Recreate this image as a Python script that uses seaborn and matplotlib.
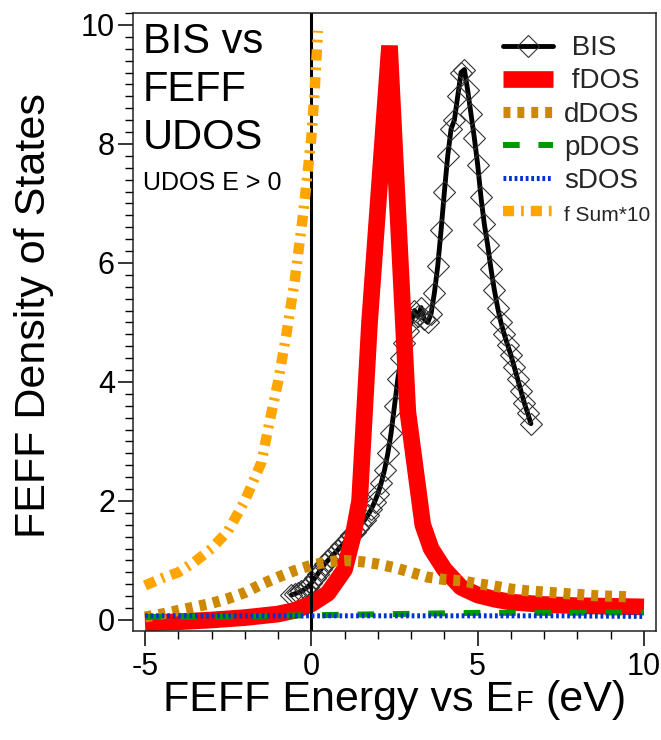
import matplotlib
matplotlib.use("Agg")
import matplotlib.pyplot as plt
from matplotlib.ticker import MultipleLocator
import numpy as np
import pandas as pd
import seaborn as sns

# ---------------- data ----------------
bis_x = [-0.6, -0.5, -0.4, -0.3, -0.2, -0.1, 0.0, 0.1, 0.2, 0.3, 0.4, 0.5, 0.6, 0.7,
         0.8, 0.9, 1.0, 1.1, 1.2, 1.3, 1.4, 1.5, 1.6, 1.7, 1.8, 1.9, 2.0, 2.1, 2.2,
         2.3, 2.4, 2.5, 2.6, 2.7, 2.8, 2.9, 3.0, 3.1, 3.2, 3.3, 3.4, 3.5, 3.6, 3.7,
         3.8, 3.9, 4.0, 4.1, 4.2, 4.3, 4.4, 4.5, 4.6, 4.7, 4.8, 4.9, 5.0, 5.1, 5.2,
         5.3, 5.4, 5.5, 5.6, 5.7, 5.8, 5.9, 6.0, 6.1, 6.2, 6.3, 6.4, 6.5, 6.6]
bis_y = [0.42, 0.44, 0.46, 0.48, 0.52, 0.56, 0.62, 0.70, 0.78, 0.86, 0.94, 1.00, 1.06, 1.12,
         1.18, 1.24, 1.30, 1.36, 1.42, 1.48, 1.55, 1.62, 1.68, 1.76, 1.86, 1.98, 2.12, 2.30, 2.52,
         2.80, 3.15, 3.60, 4.05, 4.40, 4.65, 4.85, 5.00, 5.20, 5.10, 5.25, 5.05, 5.00, 5.15, 5.50,
         5.95, 6.55, 7.20, 7.80, 8.25, 8.40, 8.80, 9.20, 9.25, 8.90, 8.50, 8.10, 7.65, 7.10, 6.65,
         6.30, 5.90, 5.55, 5.25, 5.00, 4.80, 4.62, 4.45, 4.25, 4.05, 3.85, 3.65, 3.48, 3.30]

fdos_x = [-5.0, -4.0, -3.0, -2.0, -1.0, -0.5, 0.0, 0.5, 1.0, 1.25, 1.45, 1.75, 2.35,
          2.9, 3.35, 3.6, 4.0, 4.5, 5.0, 5.5, 6.0, 7.0, 8.0, 9.0, 10.0]
fdos_y = [-0.05, -0.03, 0.0, 0.04, 0.10, 0.16, 0.27, 0.45, 0.85, 1.40, 2.00, 5.00, 9.65,
          3.50, 1.60, 1.20, 0.85, 0.55, 0.42, 0.35, 0.30, 0.26, 0.24, 0.23, 0.22]

ddos_x = [-5.0, -4.5, -4.0, -3.5, -3.0, -2.5, -2.0, -1.5, -1.0, -0.5, 0.0, 0.5, 1.0, 1.5,
          2.0, 2.5, 3.0, 3.5, 4.0, 4.5, 5.0, 5.5, 6.0, 6.5, 7.0, 7.5, 8.0, 8.5, 9.0, 9.5]
ddos_y = [0.05, 0.10, 0.16, 0.22, 0.28, 0.36, 0.46, 0.60, 0.72, 0.83, 0.92, 0.98, 1.00, 0.98,
          0.94, 0.88, 0.80, 0.72, 0.68, 0.66, 0.61, 0.57, 0.52, 0.49, 0.47, 0.45, 0.43, 0.41, 0.40, 0.39]

pdos_x = [-5.0, -2.5, 0.0, 2.5, 5.0, 7.5, 10.0]
pdos_y = [0.05, 0.06, 0.08, 0.10, 0.12, 0.12, 0.13]

sdos_x = [-5.0, -2.5, 0.0, 2.5, 5.0, 7.5, 10.0]
sdos_y = [0.07, 0.07, 0.07, 0.07, 0.07, 0.07, 0.06]

fsum_x = [-5.0, -4.5, -4.0, -3.5, -3.0, -2.5, -2.0, -1.5, -1.25, -1.0, -0.75, -0.5,
          -0.25, 0.0, 0.1, 0.2]
fsum_y = [0.58, 0.70, 0.80, 0.98, 1.20, 1.50, 2.00, 2.65, 3.35, 4.00, 4.80, 5.70,
          6.80, 8.10, 8.90, 9.90]

series_labels = [" BIS", " fDOS", "dDOS", "pDOS", "sDOS", "f Sum*10"]

# ---------------- styling ----------------
sns.set_theme(style="ticks")
plt.rcParams["font.family"] = ["Liberation Sans", "DejaVu Sans"]
plt.rcParams["lines.scale_dashes"] = False
plt.rcParams["axes.unicode_minus"] = False

fig = plt.figure(figsize=(6.61, 7.40), dpi=100)
ax = fig.add_axes([133 / 661, 1 - 631 / 740, 523 / 661, 618 / 740])

ax.axvline(0, color="black", lw=2.2, zorder=2.15)

df_bis = pd.DataFrame({"E": bis_x, "DOS": bis_y})
df_f = pd.DataFrame({"E": fdos_x, "DOS": fdos_y})
df_d = pd.DataFrame({"E": ddos_x, "DOS": ddos_y})
df_p = pd.DataFrame({"E": pdos_x, "DOS": pdos_y})
df_s = pd.DataFrame({"E": sdos_x, "DOS": sdos_y})
df_fs = pd.DataFrame({"E": fsum_x, "DOS": fsum_y})

common = dict(x="E", y="DOS", ax=ax, estimator=None, errorbar=None, sort=False)

sns.lineplot(data=df_bis, color="black", lw=3.5, marker="D", markersize=11.5,
             markerfacecolor="none", markeredgecolor="#333333", markeredgewidth=0.8,
             label=series_labels[0], zorder=2.0, **common)
sns.lineplot(data=df_f, color="#FF0000", lw=12, solid_joinstyle="bevel",
             solid_capstyle="butt", label=series_labels[1], zorder=2.1, **common)
sns.lineplot(data=df_d, color="#CC8800", lw=8, linestyle=(0, (5, 5)),
             label=series_labels[2], zorder=2.2, **common)
sns.lineplot(data=df_p, color="#009900", lw=4.3, linestyle=(0, (12, 13.5)),
             label=series_labels[3], zorder=2.3, **common)
sns.lineplot(data=df_s, color="#0033CC", lw=3.6, linestyle=(0, (2, 2)),
             label=series_labels[4], zorder=2.4, **common)
sns.lineplot(data=df_fs, color="#FFA500", lw=7.5, linestyle=(0, (8, 5, 2, 5)),
             label=series_labels[5], zorder=2.5, **common)

ax.set_xlim(-5.36, 10.36)
ax.set_ylim(-0.185, 10.2)
ax.xaxis.set_major_locator(MultipleLocator(5))
ax.xaxis.set_minor_locator(MultipleLocator(1))
ax.yaxis.set_major_locator(MultipleLocator(2))
ax.yaxis.set_minor_locator(MultipleLocator(0.2))
ax.tick_params(which="major", direction="out", length=11, width=1.1, labelsize=22,
               color="black", labelcolor="black", pad=4)
ax.tick_params(axis="y", which="major", pad=2)
ax.tick_params(which="minor", direction="out", length=5.5, width=1.0, color="black")
for sp in ax.spines.values():
    sp.set_visible(True)
    sp.set_color("#222222")
    sp.set_linewidth(1.1)

ax.set_xlabel("")
ax.set_ylabel("FEFF Density of States", fontsize=31, color="black")
ax.yaxis.set_label_coords(-0.152, 0.51)

# legend
leg = ax.legend(loc="upper left", bbox_to_anchor=(0.707, 0.964), frameon=False,
                fontsize=20, handlelength=1.8, handletextpad=0.4, labelspacing=0.26,
                borderaxespad=0, borderpad=0)
leg.get_texts()[-1].set_fontsize(15)

# annotations
ax.text(0.019, 0.985, "BIS vs\nFEFF\nUDOS", transform=ax.transAxes, fontsize=30,
        va="top", ha="left", linespacing=1.25, color="black")
ax.text(0.019, 0.745, "UDOS E > 0", transform=ax.transAxes, fontsize=18,
        va="top", ha="left", color="black")

# x label with small-cap F
fig.canvas.draw()
r = fig.canvas.get_renderer()
parts = [("FEFF Energy vs E", 31), ("F", 21), ("(eV)", 31)]
gaps = [0, 1, 12]
tmp = []
widths = []
for s, fs in parts:
    t = fig.text(0, 0, s, fontsize=fs, va="baseline", ha="left", color="black")
    widths.append(t.get_window_extent(r).width)
    tmp.append(t)
total = sum(widths) + sum(gaps)
x0 = 394.5 - total / 2
base_y = (740 - 711) / 740
for t, w, g in zip(tmp, widths, gaps):
    x0 += g
    t.set_position((x0 / 661, base_y))
    x0 += w

fig.savefig("out.png", dpi=100)
